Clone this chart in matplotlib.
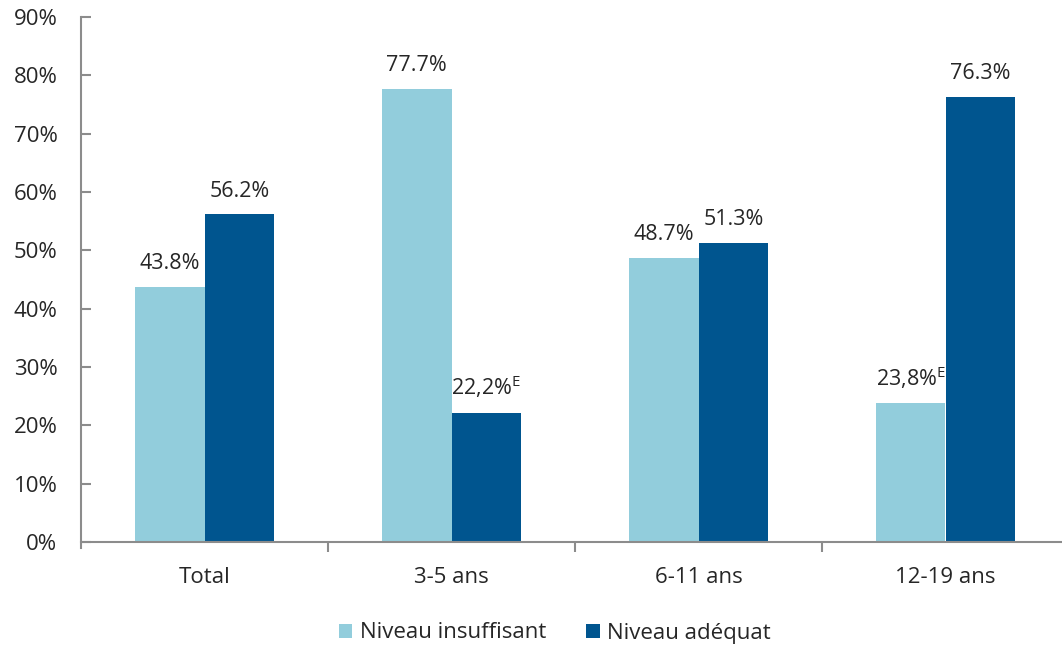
import matplotlib
matplotlib.use("Agg")
import matplotlib.pyplot as plt
import numpy as np

# Niveau d'activité par groupe d'âge
categories = ["Total", "3-5 ans", "6-11 ans", "12-19 ans"]
insuffisant = [43.8, 77.7, 48.7, 23.8]
adequat = [56.2, 22.2, 51.3, 76.3]
labels_insuffisant = ["43.8%", "77.7%", "48.7%", "23,8%$^{\\mathrm{E}}$"]
labels_adequat = ["56.2%", "22,2%$^{\\mathrm{E}}$", "51.3%", "76.3%"]
series_names = ["Niveau insuffisant", "Niveau adéquat"]
yticks = np.arange(0, 91, 10)

LIGHT = "#92cddc"
DARK = "#00558f"
AXIS = "#8c8c8c"
TEXT = "#262626"

plt.rcParams["font.family"] = ["Open Sans", "DejaVu Sans"]
plt.rcParams["mathtext.fontset"] = "custom"
plt.rcParams["mathtext.rm"] = "Open Sans"

fig = plt.figure(figsize=(10.62, 6.46), dpi=100)
W, H = 1062, 646
ax = fig.add_axes([81 / W, 1 - 542 / H, (1062 - 81) / W, (542 - 17) / H])

x = np.arange(len(categories))
bw = 0.283
b1 = ax.bar(x - bw / 2, insuffisant, bw, color=LIGHT, label=series_names[0])
b2 = ax.bar(x + bw / 2, adequat, bw, color=DARK, label=series_names[1])

for bars, labels in ((b1, labels_insuffisant), (b2, labels_adequat)):
    for rect, lab in zip(bars, labels):
        ax.annotate(lab, (rect.get_x() + rect.get_width() / 2, rect.get_height()),
                    xytext=(0, 9), textcoords="offset points",
                    ha="center", va="bottom", fontsize=15.5, color=TEXT)

ax.set_xlim(-0.5, -0.5 + (1062 - 81) / 247)
ax.set_ylim(0, 90)
ax.set_yticks(yticks)
ax.set_yticklabels([f"{v}%" for v in yticks], fontsize=16, color=TEXT)
ax.tick_params(axis="y", direction="in", length=7, width=1.5, color=AXIS, pad=17)

# category labels without ticks, separators as minor ticks
ax.set_xticks(x)
ax.set_xticklabels(categories, fontsize=16, color=TEXT)
ax.tick_params(axis="x", which="major", length=0, pad=18)
ax.set_xticks(x[:-1] + 0.5, minor=True)
ax.tick_params(axis="x", which="minor", direction="out", length=7, width=1.5, color=AXIS)

for side in ("top", "right"):
    ax.spines[side].set_visible(False)
for side in ("left", "bottom"):
    ax.spines[side].set_color(AXIS)
    ax.spines[side].set_linewidth(1.5)
ax.spines["left"].set_bounds(-1.0, 90)
ax.set_ylim(0, 90)

leg = fig.legend(handles=[b1, b2], loc="center", bbox_to_anchor=(555 / W, 1 - 633 / H),
                 ncol=2, frameon=False, fontsize=16, handlelength=0.6, handleheight=0.6,
                 handletextpad=0.35, columnspacing=1.8)
for t in leg.get_texts():
    t.set_color(TEXT)

fig.savefig("out.png", dpi=100)
